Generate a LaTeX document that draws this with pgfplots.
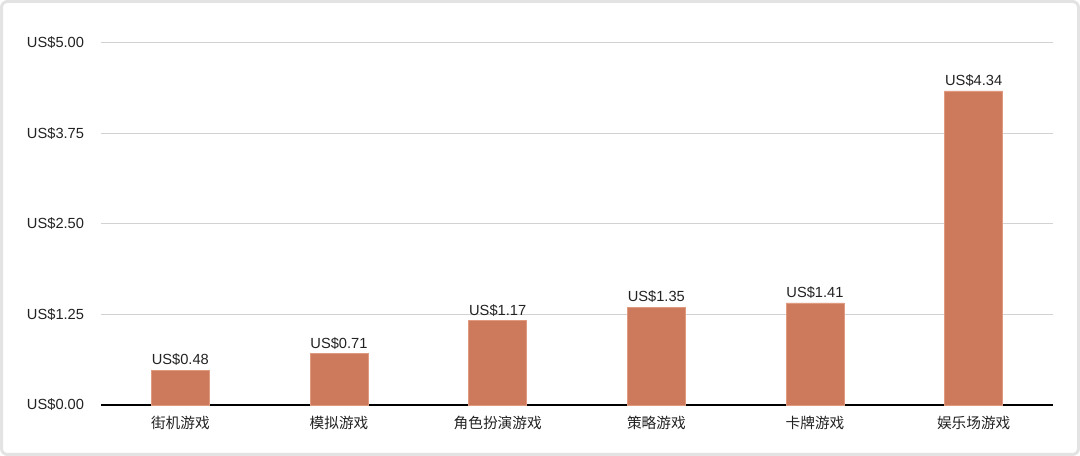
\documentclass[border=0pt]{standalone}
\usepackage{pgfplots}
\pgfplotsset{compat=1.18}
\usepackage{fontspec}
\setmainfont{Liberation Sans}
\newfontfamily\cjk{Noto Sans CJK SC}
\definecolor{barc}{HTML}{CD7A5C}
\definecolor{baredge}{HTML}{E09A80}
\definecolor{gridc}{HTML}{D2D2D2}
\definecolor{framec}{HTML}{E3E3E3}
\definecolor{txt}{HTML}{222222}
\begin{document}
\begin{tikzpicture}
\path[use as bounding box] (0pt,0pt) rectangle (810pt,342pt);
\draw[draw=framec, line width=2.25pt, rounded corners=4.5pt] (1.125pt,1.125pt) rectangle (808.875pt,340.875pt);
\begin{axis}[
  at={(75.75pt,38.25pt)}, anchor=south west,
  scale only axis, width=714pt, height=271.5pt,
  xmin=-0.5, xmax=5.5, ymin=0, ymax=5,
  ytick={0,1.25,2.5,3.75,5},
  xtick=data,
  xticklabels={街机游戏,模拟游戏,角色扮演游戏,策略游戏,卡牌游戏,娱乐场游戏},
  axis x line*=bottom, axis y line*=left,
  y axis line style={draw=none},
  x axis line style={draw=black, line width=0.9pt},
  major tick length=0pt,
  ymajorgrids, grid style={draw=gridc, line width=0.75pt},
  /pgf/number format/assume math mode=true,
  yticklabel={US\$\pgfmathprintnumber[fixed,fixed zerofill,precision=2]{\tick}},
  yticklabel style={anchor=east, inner sep=0pt, xshift=-12.5pt, font=\fontsize{11}{13}\selectfont, text=txt},
  xticklabel style={anchor=north, inner sep=0pt, yshift=-8.5pt, font=\cjk\fontsize{11}{13}\selectfont, text=txt},
  scaled y ticks=false,
  clip=false,
]
\addplot[ybar, bar width=43.5pt, fill=barc, draw=baredge, line width=0.4pt,
  nodes near coords={US\$\pgfmathprintnumber[fixed,fixed zerofill,precision=2]{\pgfplotspointmeta}},
  every node near coord/.append style={anchor=south, inner sep=0pt, yshift=3pt, font=\fontsize{11}{13}\selectfont, text=txt, /pgf/number format/assume math mode=true},
] coordinates {(0,0.48) (1,0.71) (2,1.17) (3,1.35) (4,1.41) (5,4.34)};
\end{axis}
\end{tikzpicture}
\end{document}
